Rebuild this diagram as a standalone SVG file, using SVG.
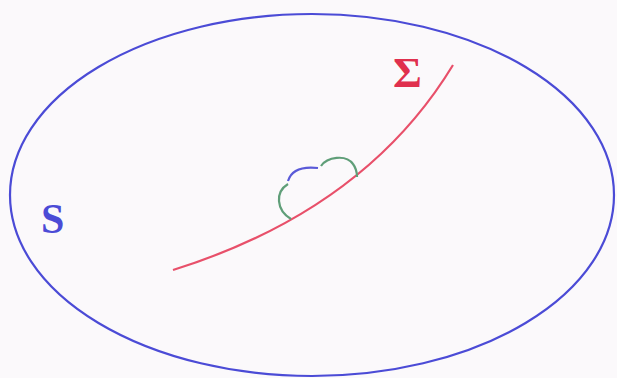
<svg xmlns="http://www.w3.org/2000/svg" width="617" height="378" viewBox="0 0 617 378">
<style>
.lbl{font-family:"Liberation Serif","Times New Roman",serif;font-weight:bold;font-size:42px}
</style>
<rect width="617" height="378" fill="#fbf9fb"/>
<g id="S">
<ellipse cx="312" cy="195" rx="302" ry="181" fill="none" stroke="#4b4bd6" stroke-width="2.2"/>
<text class="lbl" x="41" y="233" fill="#4b4bd6">S</text>
</g>
<g id="Sigma">
<path d="M173,270 Q365,210 453,65" fill="none" stroke="#e8506a" stroke-width="2.2"/>
<text class="lbl" x="393" y="87" fill="#e0304e" transform="translate(393 87) scale(1.05 1) translate(-393 -87)">Σ</text>
</g>
<g id="connectors">
<path d="M288,184 C275,192 276,210 291,219" fill="none" stroke="#5f9e78" stroke-width="2.2"/>
<path d="M288,181 C291,171 300,166 318,168" fill="none" stroke="#5a5ad8" stroke-width="2.2"/>
<path d="M321,166 C327,157 346,154 353,164 C356,168 357,172 357,177" fill="none" stroke="#5f9e78" stroke-width="2.2"/>
</g>
</svg>
